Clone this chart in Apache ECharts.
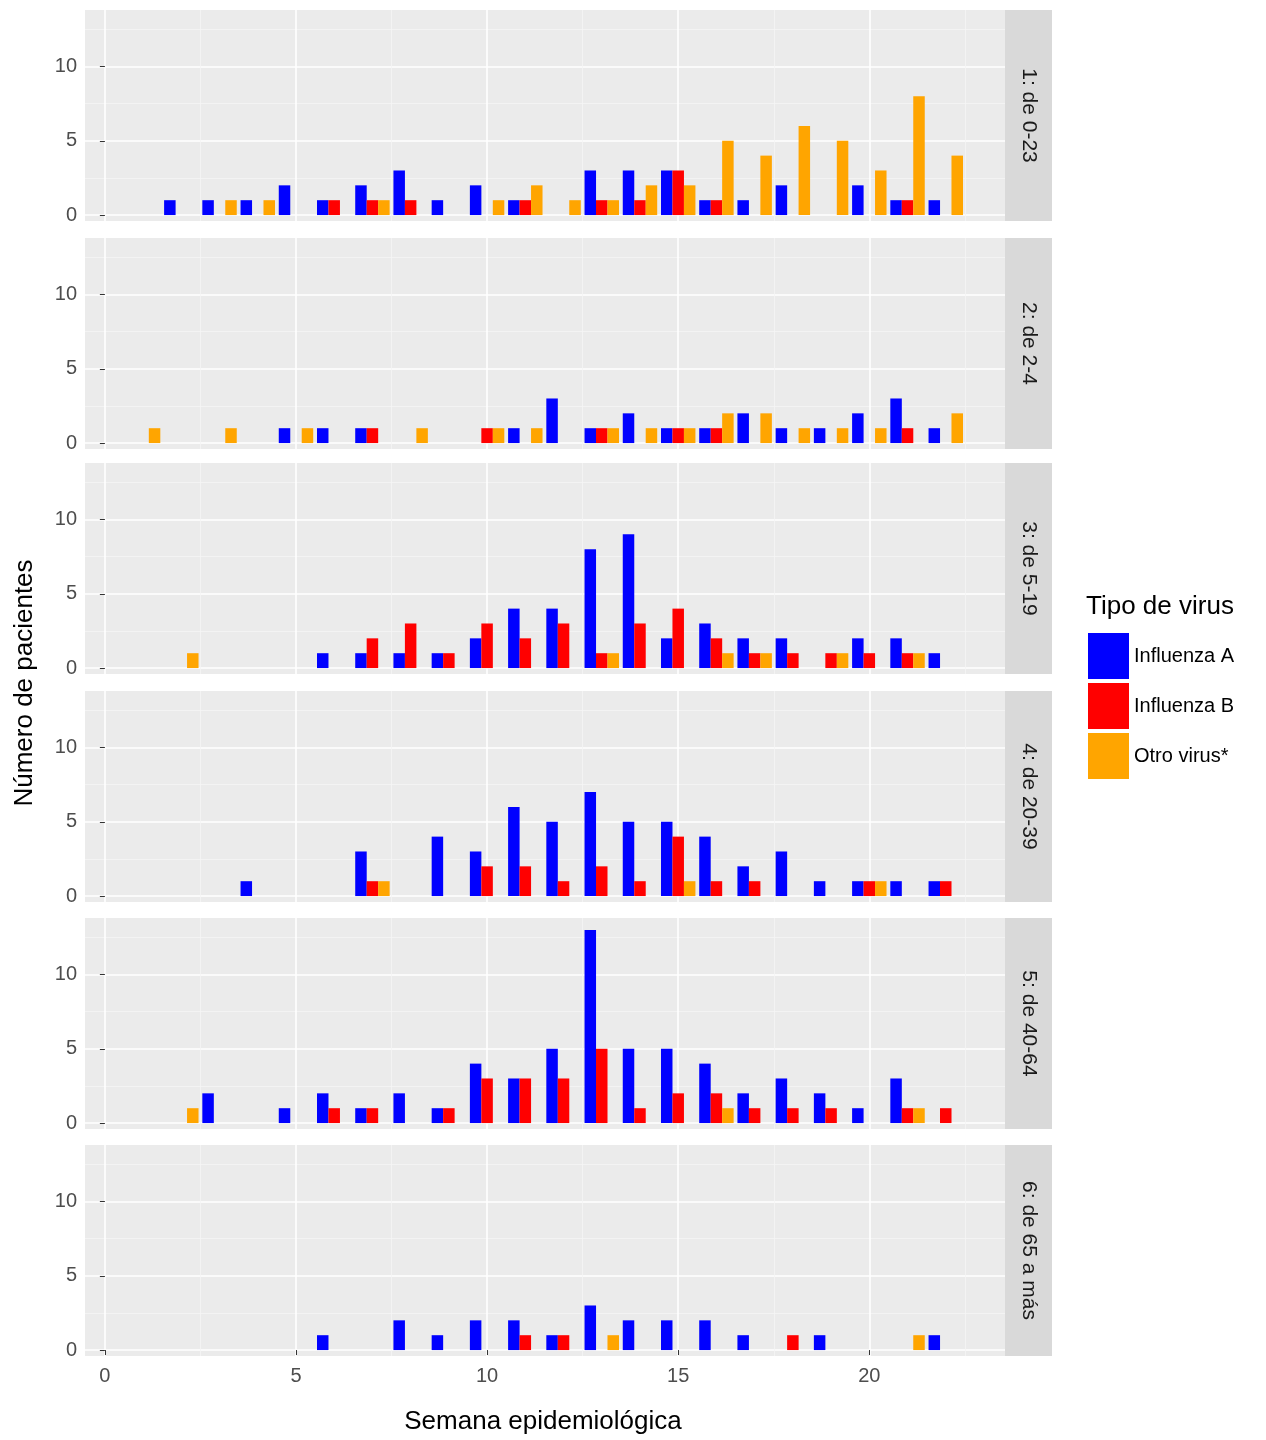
<!DOCTYPE html>
<html>
<head>
<meta charset="utf-8">
<script src="https://cdn.jsdelivr.net/npm/echarts@6/dist/echarts.min.js"></script>
<style>html,body{margin:0;padding:0;background:#fff}#chart{width:1266px;height:1440px}</style>
</head>
<body>
<div id="chart"></div>
<script>
// semanas 1..22 ; valores por grupo de edad
var weeks = [1,2,3,4,5,6,7,8,9,10,11,12,13,14,15,16,17,18,19,20,21,22];
var panels = ['1: de 0-23', '2: de 2-4', '3: de 5-19', '4: de 20-39', '5: de 40-64', '6: de 65 a más'];
var virusNames = ['Influenza A', 'Influenza B', 'Otro virus*'];
var colors = ['#0000ff', '#ff0000', '#ffa500'];
var xTicks = [0, 5, 10, 15, 20];
var xMinor = [2.5, 7.5, 12.5, 17.5, 22.5];
var yTicks = [0, 5, 10];
var yMinor = [2.5, 7.5, 12.5];

//              1 2 3 4 5 6 7 8 9 10 11 12 13 14 15 16 17 18 19 20 21 22
var p1A = [0,1,1,1,2,1,2,3,1,2,1,0,3,3,3,1,1,2,0,2,1,1];
var p1B = [0,0,0,0,0,1,1,1,0,0,1,0,1,1,3,1,0,0,0,0,1,0];
var p1O = [0,0,1,1,0,0,1,0,0,1,2,1,1,2,2,5,4,6,5,3,8,4];

var p2A = [0,0,0,0,1,1,1,0,0,0,1,3,1,2,1,1,2,1,1,2,3,1];
var p2B = [0,0,0,0,0,0,1,0,0,1,0,0,1,0,1,1,0,0,0,0,1,0];
var p2O = [1,0,1,0,1,0,0,1,0,1,1,0,1,1,1,2,2,1,1,1,0,2];

var p3A = [0,0,0,0,0,1,1,1,1,2,4,4,8,9,2,3,2,2,0,2,2,1];
var p3B = [0,0,0,0,0,0,2,3,1,3,2,3,1,3,4,2,1,1,1,1,1,0];
var p3O = [0,1,0,0,0,0,0,0,0,0,0,0,1,0,0,1,1,0,1,0,1,0];

var p4A = [0,0,0,1,0,0,3,0,4,3,6,5,7,5,5,4,2,3,1,1,1,1];
var p4B = [0,0,0,0,0,0,1,0,0,2,2,1,2,1,4,1,1,0,0,1,0,1];
var p4O = [0,0,0,0,0,0,1,0,0,0,0,0,0,0,1,0,0,0,0,1,0,0];

var p5A = [0,0,2,0,1,2,1,2,1,4,3,5,13,5,5,4,2,3,2,1,3,0];
var p5B = [0,0,0,0,0,1,1,0,1,3,3,3,5,1,2,2,1,1,1,0,1,1];
var p5O = [0,1,0,0,0,0,0,0,0,0,0,0,0,0,0,1,0,0,0,0,1,0];

var p6A = [0,0,0,0,0,1,0,2,1,2,2,1,3,2,2,2,1,0,1,0,0,1];
var p6B = [0,0,0,0,0,0,0,0,0,0,1,1,0,0,0,0,0,1,0,0,0,0];
var p6O = [0,0,0,0,0,0,0,0,0,0,0,0,1,0,0,0,0,0,0,0,1,0];

var panelData = [[p1A,p1B,p1O],[p2A,p2B,p2O],[p3A,p3B,p3O],[p4A,p4B,p4O],[p5A,p5B,p5O],[p6A,p6B,p6O]];
var offsets = [-0.3, 0, 0.3];

var tops = [10, 238, 463, 691, 918, 1145];
var ph = 211, left = 85, right = 1005, strip = 47;
var font = 'Liberation Sans, Arial, sans-serif';
var xMin = -0.52, xMax = 23.55, yMin = -0.4, yMax = 13.8;

var grids = [], xAxes = [], yAxes = [], series = [], graphics = [];
panels.forEach(function (name, i) {
    grids.push({left: left, top: tops[i], width: right - left, height: ph,
        show: true, backgroundColor: '#ebebeb', borderWidth: 0});
    // minor grid axes
    xAxes.push({type: 'value', gridIndex: i, min: xMin, max: xMax, position: 'top',
        axisLine: {show: false}, axisLabel: {show: false},
        axisTick: {show: false, customValues: xMinor},
        splitLine: {show: true, lineStyle: {color: '#f5f5f5', width: 0.8}}});
    yAxes.push({type: 'value', gridIndex: i, min: yMin, max: yMax, position: 'right',
        axisLine: {show: false}, axisLabel: {show: false},
        axisTick: {show: false, customValues: yMinor},
        splitLine: {show: true, lineStyle: {color: '#f5f5f5', width: 0.8}}});
    // major axes
    xAxes.push({type: 'value', gridIndex: i, min: xMin, max: xMax, position: 'bottom',
        axisLine: {show: false},
        axisTick: {show: i === 5, length: 5, customValues: xTicks, lineStyle: {color: '#333'}},
        axisLabel: {show: i === 5, customValues: xTicks, color: '#4d4d4d', fontSize: 20, fontFamily: font, margin: 10},
        splitLine: {show: true, lineStyle: {color: '#fff', width: 1.6}}});
    yAxes.push({type: 'value', gridIndex: i, min: yMin, max: yMax, position: 'left',
        axisLine: {show: false},
        axisTick: {show: true, length: 5, customValues: yTicks, lineStyle: {color: '#333'}},
        axisLabel: {customValues: yTicks, color: '#4d4d4d', fontSize: 20, fontFamily: font, margin: 8},
        splitLine: {show: true, lineStyle: {color: '#fff', width: 1.6}}});
    panelData[i].forEach(function (vals, k) {
        series.push({
            name: virusNames[k], type: 'bar', xAxisIndex: 2 * i + 1, yAxisIndex: 2 * i + 1,
            barWidth: 11.5, barGap: '-100%', itemStyle: {color: colors[k]},
            silent: true, animation: false,
            data: weeks.map(function (w, j) { return vals[j] > 0 ? [w + offsets[k], vals[j]] : null; })
                       .filter(function (d) { return d; })
        });
    });
    graphics.push({type: 'rect', shape: {x: right, y: tops[i], width: strip, height: ph},
        style: {fill: '#d9d9d9'}});
    graphics.push({type: 'text', x: right + strip / 2, y: tops[i] + ph / 2, rotation: -Math.PI / 2,
        style: {text: name, fill: '#1a1a1a', font: '21px ' + font, align: 'center', verticalAlign: 'middle'}});
});

graphics.push({type: 'text', x: 25, y: 683, rotation: Math.PI / 2,
    style: {text: 'Número de pacientes', fill: '#000', font: '26px ' + font, align: 'center', verticalAlign: 'middle'}});
graphics.push({type: 'text', x: 543, y: 1422,
    style: {text: 'Semana epidemiológica', fill: '#000', font: '26px ' + font, align: 'center', verticalAlign: 'middle'}});
graphics.push({type: 'text', x: 1086, y: 607,
    style: {text: 'Tipo de virus', fill: '#000', font: '26px ' + font, align: 'left', verticalAlign: 'middle'}});

var chart = echarts.init(document.getElementById('chart'));
chart.setOption({
    animation: false,
    grid: grids, xAxis: xAxes, yAxis: yAxes, series: series,
    legend: {data: virusNames, orient: 'vertical', left: 1083, top: 628,
        itemWidth: 41, itemHeight: 46, itemGap: 4, icon: 'rect', selectedMode: false,
        textStyle: {fontSize: 20, fontFamily: font, color: '#000', padding: [0, 0, 0, 0]}},
    graphic: graphics
});
</script>
</body>
</html>
